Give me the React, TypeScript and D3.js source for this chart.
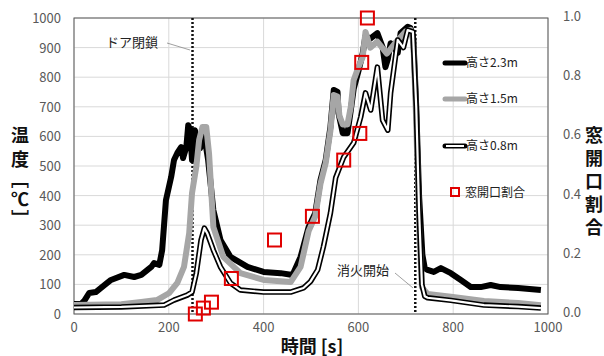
import * as d3 from "d3";

// ── Data ────────────────────────────────────────────────
const h23: [number, number][] = [
  [0, 34], [15, 34], [22, 45], [32, 71], [46, 74], [57, 88], [78, 115], [106, 132], [127, 125],
  [142, 132], [163, 159], [169, 172], [180, 166], [186, 216], [194, 385], [205, 463], [211, 520],
  [218, 544], [226, 564], [230, 527], [237, 564], [241, 638], [245, 621], [249, 520], [255, 621],
  [260, 588], [266, 560], [275, 600], [283, 520], [294, 351], [309, 250], [330, 193], [366, 159],
  [400, 142], [436, 138], [461, 132], [478, 193], [495, 294], [509, 341], [520, 453], [531, 520],
  [541, 632], [548, 757], [556, 750], [558, 679], [567, 611], [577, 611], [584, 689], [590, 760],
  [600, 820], [609, 880], [615, 940], [625, 930], [640, 949], [651, 902], [657, 834], [662, 860],
  [668, 915], [675, 900], [683, 882], [689, 949], [704, 970], [710, 966], [716, 930], [722, 700],
  [728, 400], [735, 200], [740, 155], [746, 149], [759, 142], [774, 155], [795, 138], [816, 115],
  [837, 91], [858, 91], [879, 98], [900, 91], [937, 88], [985, 81],
];

const h15: [number, number][] = [
  [0, 30], [100, 33], [142, 41], [175, 47], [201, 71], [218, 105], [232, 159], [243, 273],
  [249, 409], [258, 497], [264, 588], [271, 632], [279, 632], [285, 540], [294, 294], [315, 193],
  [351, 138], [400, 115], [457, 108], [478, 159], [495, 280], [509, 330], [520, 440], [531, 510],
  [541, 620], [548, 740], [556, 735], [560, 670], [567, 640], [577, 640], [584, 700], [590, 790],
  [600, 834], [609, 868], [615, 953], [625, 900], [640, 920], [660, 880], [680, 920], [700, 955],
  [710, 960], [716, 920], [722, 650], [728, 300], [734, 90], [746, 68], [795, 58], [865, 44],
  [937, 37], [985, 30],
];

const h08: [number, number][] = [
  [0, 22], [100, 24], [190, 30], [211, 47], [239, 64], [249, 74], [258, 138], [268, 250],
  [275, 290], [281, 273], [294, 216], [309, 159], [330, 105], [351, 81], [400, 74], [457, 74],
  [484, 88], [499, 110], [514, 149], [526, 226], [541, 341], [552, 460], [569, 530], [590, 578],
  [605, 666], [615, 747], [626, 689], [640, 834], [651, 655], [662, 621], [668, 747], [683, 926],
  [695, 900], [704, 959], [715, 953], [722, 700], [728, 350], [734, 100], [740, 60], [746, 55],
  [795, 46], [865, 30], [937, 25], [985, 20],
];

const ratioTime = [256, 273, 290, 332, 423, 503, 569, 603, 607, 619];
const ratioVal = [0.0, 0.02, 0.04, 0.12, 0.25, 0.33, 0.52, 0.61, 0.85, 1.0];

const xTicks = [0, 200, 400, 600, 800, 1000];
const yTicks = [0, 100, 200, 300, 400, 500, 600, 700, 800, 900, 1000];
const y2Ticks = [0, 0.2, 0.4, 0.6, 0.8, 1.0];
const vLines = [250, 720];

// ── Layout ──────────────────────────────────────────────
const W = 604;
const H = 356;
const L = 74, R = 548, T = 18, B = 314;
const FONT = "'Noto Sans CJK JP', 'Noto Sans', sans-serif";
const GRID = "#d9d9d9";
const AXIS = "#595959";

const x = d3.scaleLinear().domain([0, 1000]).range([L, R]);
const y = d3.scaleLinear().domain([0, 1000]).range([B, T]);
const y2 = d3.scaleLinear().domain([0, 1]).range([B, T]);

const line = d3.line<[number, number]>().x(d => x(d[0])).y(d => y(d[1]));

// left title chars with their baselines
const yTitle: [string, number][] = [["温", 142], ["度", 166], ["﹇", 186], ["℃", 206], ["﹈", 226]];

export default function App() {
  return (
    <svg width={W} height={H} style={{ position: "absolute", left: 0, top: 0, background: "#fff" }}
      fontFamily={FONT}>
      {/* grid */}
      {yTicks.map(t => (
        <line key={"gy" + t} x1={L} x2={R} y1={y(t)} y2={y(t)} stroke={GRID} strokeWidth={1} />
      ))}
      {xTicks.map(t => (
        <line key={"gx" + t} x1={x(t)} x2={x(t)} y1={T} y2={B} stroke={GRID} strokeWidth={1} />
      ))}
      <rect x={L} y={T} width={R - L} height={B - T} fill="none" stroke={AXIS} strokeWidth={1} />

      {/* ticks */}
      {yTicks.map(t => (
        <text key={"ly" + t} x={61} y={y(t) + 5} textAnchor="end" fontSize={13} fill={AXIS}>{t}</text>
      ))}
      {xTicks.map(t => (
        <text key={"lx" + t} x={x(t)} y={332} textAnchor="middle" fontSize={13} fill={AXIS}>{t}</text>
      ))}
      {y2Ticks.map(t => (
        <text key={"ly2" + t} x={563} y={y2(t) + 3} textAnchor="start" fontSize={13} fill={AXIS}>{t.toFixed(1)}</text>
      ))}

      {/* dotted event lines */}
      {vLines.map(t => (
        <line key={"v" + t} x1={x(t)} x2={x(t)} y1={T} y2={B} stroke="#111" strokeWidth={2.5}
          strokeDasharray="2 2" />
      ))}

      {/* series */}
      <path d={line(h23) ?? ""} fill="none" stroke="#000" strokeWidth={6} strokeLinejoin="round" />
      <path d={line(h15) ?? ""} fill="none" stroke="#a6a6a6" strokeWidth={6} strokeLinejoin="round" />
      <path d={line(h08) ?? ""} fill="none" stroke="#000" strokeWidth={5.5} strokeLinejoin="round" />
      <path d={line(h08) ?? ""} fill="none" stroke="#fff" strokeWidth={2.2} strokeLinejoin="round" />

      {/* window opening ratio */}
      {ratioTime.map((t, i) => (
        <rect key={"r" + i} x={x(t) - 6.5} y={y2(ratioVal[i]) - 6.5} width={13} height={13}
          fill="none" stroke="#e00000" strokeWidth={2} />
      ))}

      {/* annotations */}
      <text x={106} y={47} fontSize={13} fill="#222">ドア閉鎖</text>
      <line x1={167} y1={43} x2={190} y2={50} stroke="#888" strokeWidth={0.8} />
      <text x={337} y={275} fontSize={13} fill="#222">消火開始</text>
      <line x1={395} y1={273} x2={413} y2={288} stroke="#888" strokeWidth={0.8} />

      {/* legend */}
      <line x1={445} x2={465} y1={63} y2={63} stroke="#000" strokeWidth={5} strokeLinecap="round" />
      <text x={466} y={67} fontSize={12} fill="#222">高さ2.3m</text>
      <line x1={445} x2={465} y1={99} y2={99} stroke="#a6a6a6" strokeWidth={5} strokeLinecap="round" />
      <text x={466} y={103} fontSize={12} fill="#222">高さ1.5m</text>
      <line x1={445} x2={465} y1={146} y2={146} stroke="#000" strokeWidth={5} strokeLinecap="round" />
      <line x1={446} x2={464} y1={146} y2={146} stroke="#fff" strokeWidth={2} />
      <text x={466} y={150} fontSize={12} fill="#222">高さ0.8m</text>
      <rect x={451} y={188} width={8} height={8} fill="none" stroke="#e00000" strokeWidth={2} />
      <text x={465} y={197} fontSize={12} fill="#222">窓開口割合</text>

      {/* axis titles */}
      {yTitle.map(([c, by], i) => (
        <text key={"yt" + i} x={20} y={by} textAnchor="middle"
          fontSize={18} fontWeight="bold" fill="#111">{c}</text>
      ))}
      {["窓", "開", "口", "割", "合"].map((c, i) => (
        <text key={"y2t" + i} x={594} y={142 + i * 23} textAnchor="middle"
          fontSize={18} fontWeight="bold" fill="#111">{c}</text>
      ))}
      <text x={312} y={353} textAnchor="middle" fontSize={18} fontWeight="bold" fill="#111">時間 [s]</text>
    </svg>
  );
}
